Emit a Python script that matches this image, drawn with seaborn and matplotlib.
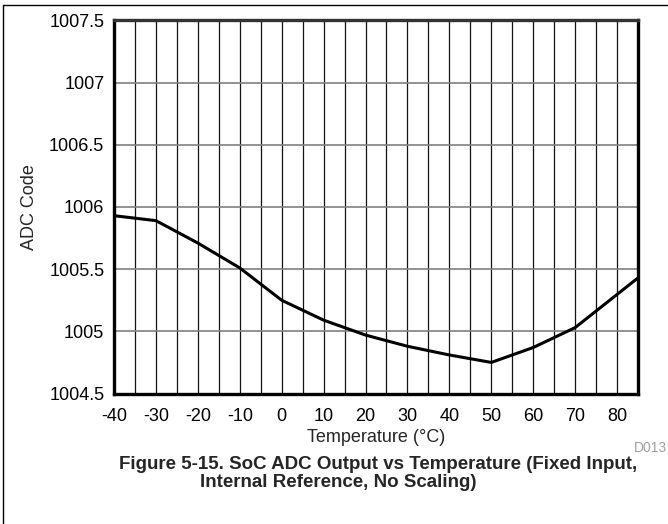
import pandas as pd
import matplotlib.pyplot as plt
import seaborn as sns
from matplotlib.lines import Line2D

# Data
temperature = [-40, -30, -20, -10, 0, 10, 20, 30, 40, 50, 60, 70, 85]
adc_code = [1005.93, 1005.89, 1005.71, 1005.51, 1005.25, 1005.09, 1004.97,
            1004.88, 1004.81, 1004.75, 1004.87, 1005.03, 1005.43]
x_ticks = [-40, -30, -20, -10, 0, 10, 20, 30, 40, 50, 60, 70, 80]
y_ticks = [1004.5, 1005, 1005.5, 1006, 1006.5, 1007, 1007.5]
y_tick_labels = ["1004.5", "1005", "1005.5", "1006", "1006.5", "1007", "1007.5"]

df = pd.DataFrame({"Temperature": temperature, "ADC": adc_code})

sns.set_theme(style="white")
plt.rcParams["font.family"] = ["Liberation Sans", "DejaVu Sans"]

fig = plt.figure(figsize=(6.68, 5.24), dpi=100)
ax = fig.add_axes([0.1707, 0.249, 0.7844, 0.712])

# grid: vertical every 5 degrees (black), horizontal every 0.5 (gray)
for xv in range(-35, 85, 5):
    ax.axvline(xv, color="#111111", lw=0.9, zorder=1)
for yv in y_ticks[1:-1]:
    ax.axhline(yv, color="#808080", lw=1.2, zorder=1)

sns.lineplot(data=df, x="Temperature", y="ADC", ax=ax, color="black",
             lw=2.2, zorder=3)

ax.set_xlim(-40, 85)
ax.set_ylim(1004.5, 1007.5)
ax.set_xticks(x_ticks)
ax.set_xticklabels([str(t) for t in x_ticks])
ax.set_yticks(y_ticks)
ax.set_yticklabels(y_tick_labels)
ax.tick_params(axis="y", labelsize=13, colors="black", length=0, pad=7)
ax.tick_params(axis="x", labelsize=13, colors="black", length=0, pad=10.5)
ax.set_xlabel("Temperature (°C)", fontsize=13, labelpad=2.5)
ax.set_ylabel("ADC Code", fontsize=13, labelpad=8)

for side in ["left", "bottom", "right"]:
    ax.spines[side].set_color("black")
    ax.spines[side].set_linewidth(2.4)
ax.spines["top"].set_color("#333333")
ax.spines["top"].set_linewidth(2.4)

fig.text(0.998, 0.145, "D013", color="#a0a0a0", fontsize=10,
         ha="right", va="center")
fig.text(0.566, 0.113, "Figure 5-15. SoC ADC Output vs Temperature (Fixed Input,",
         fontsize=13.5, fontweight="bold", ha="center", va="center")
fig.text(0.506, 0.080, "Internal Reference, No Scaling)",
         fontsize=13.5, fontweight="bold", ha="center", va="center")

# outer frame (left and top edges)
fig.add_artist(Line2D([0.0045, 0.0045], [0.0, 0.99], color="black", lw=1.0,
                      transform=fig.transFigure))
fig.add_artist(Line2D([0.0045, 1.0], [0.99, 0.99], color="black", lw=1.0,
                      transform=fig.transFigure))

fig.savefig("out.png", dpi=100)
